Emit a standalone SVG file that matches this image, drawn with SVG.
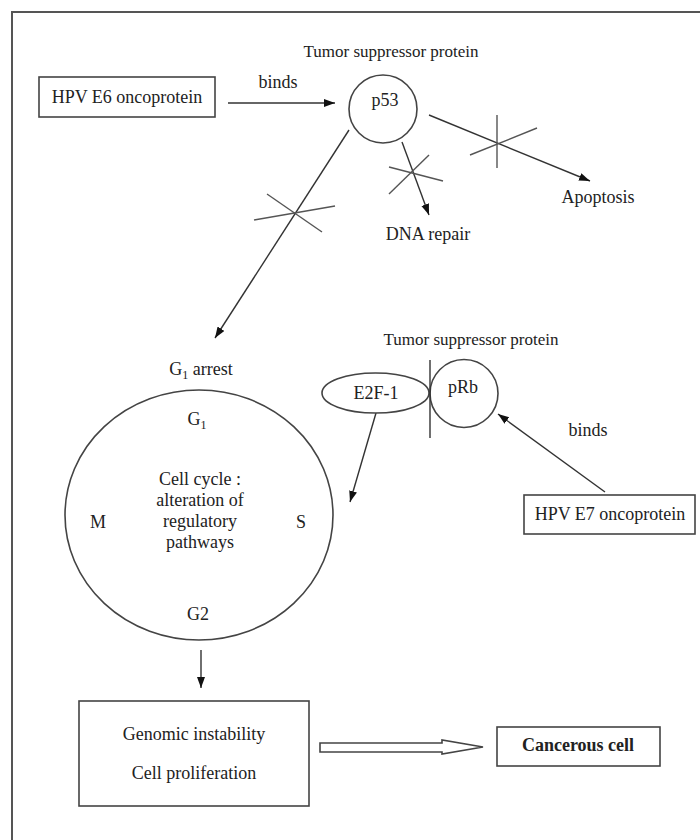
<svg xmlns="http://www.w3.org/2000/svg" width="700" height="840" viewBox="0 0 700 840">
<defs>
<style>
text{font-family:"Liberation Serif","Times New Roman",serif;font-size:18px;fill:#222;text-anchor:middle}
.sm{font-size:17px}
.b{font-weight:bold}
.shape{fill:#fff;stroke:#444;stroke-width:1.6}
.ln{stroke:#333;stroke-width:1.4;fill:none}
.x{stroke:#555;stroke-width:1.4;fill:none}
.frame{stroke:#555;stroke-width:2;fill:none}
</style>
<marker id="ah" markerUnits="userSpaceOnUse" markerWidth="12" markerHeight="10" refX="11" refY="4" orient="auto">
<path d="M0,0 L11,4 L0,8 Z" fill="#111"/>
</marker>
</defs>
<rect width="700" height="840" fill="#fff"/>
<path class="frame" d="M12,840 L12,12 L700,12"/>

<g id="connectors">
<line class="ln" x1="228" y1="103" x2="335" y2="103" marker-end="url(#ah)"/>
<line class="ln" x1="349" y1="130" x2="215" y2="338" marker-end="url(#ah)"/>
<line class="x" x1="254" y1="220" x2="335" y2="206"/>
<line class="x" x1="267" y1="194" x2="322" y2="232"/>
<line class="ln" x1="402" y1="142" x2="429" y2="215" marker-end="url(#ah)"/>
<line class="x" x1="389" y1="167" x2="443" y2="181"/>
<line class="x" x1="389" y1="194" x2="429" y2="155"/>
<line class="ln" x1="429" y1="115" x2="590" y2="181" marker-end="url(#ah)"/>
<line class="x" x1="497" y1="115" x2="497" y2="168"/>
<line class="x" x1="470" y1="155" x2="537" y2="128"/>
<line class="ln" x1="376" y1="413" x2="350" y2="502" marker-end="url(#ah)"/>
<line class="ln" x1="605" y1="492" x2="498" y2="414" marker-end="url(#ah)"/>
<line class="ln" x1="201" y1="650" x2="201" y2="688" marker-end="url(#ah)"/>
<polygon class="shape" points="320,743 442,743 442,740 483,747 442,754 442,752 320,752"/>
</g>

<g id="e6">
<rect class="shape" x="39" y="77" width="176" height="40"/>
<text x="127" y="103">HPV E6 oncoprotein</text>
</g>
<g id="binds1"><text x="278" y="88">binds</text></g>
<g id="p53">
<text class="sm" x="391" y="57">Tumor suppressor protein</text>
<circle class="shape" cx="383" cy="109" r="34"/>
<text x="385" y="106">p53</text>
</g>
<g id="dna"><text x="428" y="240">DNA repair</text></g>
<g id="apoptosis"><text x="598" y="203">Apoptosis</text></g>
<g id="g1arrest"><text x="201" y="375">G<tspan font-size="12" dy="4">1</tspan><tspan dy="-4"> arrest</tspan></text></g>
<g id="cellcycle">
<ellipse class="shape" cx="199" cy="515" rx="134" ry="125"/>
<text x="197" y="425">G<tspan font-size="12" dy="4">1</tspan></text>
<text x="200" y="485">Cell cycle :</text>
<text x="200" y="506">alteration of</text>
<text x="200" y="527">regulatory</text>
<text x="200" y="548">pathways</text>
<text x="98" y="528">M</text>
<text x="301" y="528">S</text>
<text x="198" y="620">G2</text>
</g>
<g id="prb">
<text class="sm" x="471" y="345">Tumor suppressor protein</text>
<circle class="shape" cx="464" cy="393.5" r="34"/>
<text x="463" y="393">pRb</text>
</g>
<g id="e2f1">
<ellipse class="shape" cx="375.5" cy="393" rx="53.5" ry="20"/>
<text x="376" y="399">E2F-1</text>
<line class="ln" x1="430" y1="360" x2="430" y2="438"/>
</g>
<g id="binds2"><text x="588" y="436">binds</text></g>
<g id="e7">
<rect class="shape" x="524" y="495" width="171" height="39"/>
<text x="610" y="520">HPV E7 oncoprotein</text>
</g>
<g id="genomic">
<rect class="shape" x="79" y="701" width="230" height="105"/>
<text x="194" y="740">Genomic instability</text>
<text x="194" y="779">Cell proliferation</text>
</g>
<g id="cancer">
<rect class="shape" x="497" y="727" width="163" height="39"/>
<text class="b" x="578" y="751">Cancerous cell</text>
</g>
</svg>
